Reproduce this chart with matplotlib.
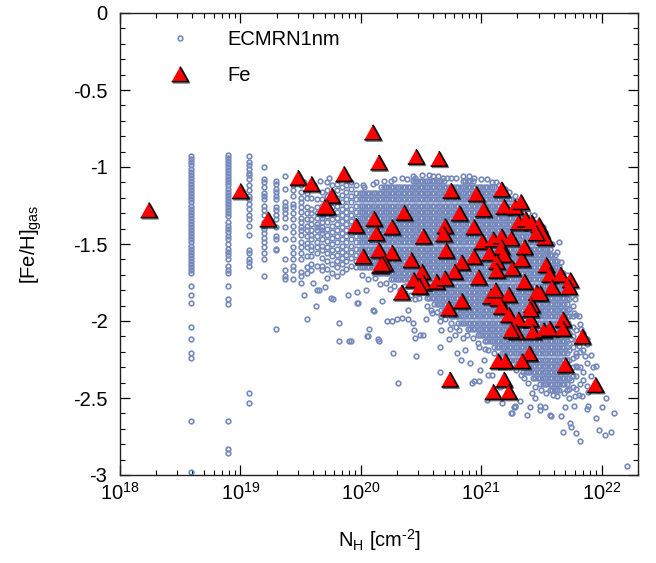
import matplotlib
matplotlib.use("Agg")
import numpy as np
import matplotlib.pyplot as plt
from matplotlib.ticker import LogLocator, LogFormatterMathtext, MultipleLocator, FuncFormatter, NullFormatter
import matplotlib.patheffects as pe

# ---------------- data (log10 N_H, [Fe/H]_gas) ----------------
# model cloud: discrete low-N columns
low_x = [18.59, 18.895, 19.075, 19.197, 19.296, 19.373, 19.44, 19.50, 19.55, 19.59, 19.64, 19.68]
low_y = [
    [-0.93,-0.95,-0.97,-0.99,-1.01,-1.03,-1.05,-1.07,-1.09,-1.11,-1.13,-1.15,-1.17,-1.19,-1.21,-1.23,-1.25,-1.27,-1.29,-1.31,-1.33,-1.35,-1.37,-1.39,-1.41,-1.43,-1.45,-1.47,-1.49,-1.51,-1.53,-1.55,-1.57,-1.59,-1.61,-1.63,-1.65,-1.67,-1.69,-1.77,-1.83,-1.88,-2.04,-2.12,-2.21,-2.24,-2.65,-2.98],
    [-0.92,-0.94,-0.96,-0.98,-1.00,-1.02,-1.04,-1.06,-1.08,-1.10,-1.12,-1.14,-1.16,-1.18,-1.20,-1.22,-1.24,-1.26,-1.28,-1.30,-1.32,-1.355,-1.38,-1.40,-1.42,-1.45,-1.47,-1.50,-1.53,-1.55,-1.57,-1.60,-1.64,-1.67,-1.69,-1.77,-1.86,-1.89,-2.65,-2.83,-2.86],
    [-0.93,-0.965,-0.99,-1.015,-1.04,-1.05,-1.08,-1.12,-1.15,-1.19,-1.21,-1.24,-1.27,-1.31,-1.34,-1.38,-1.44,-1.54,-1.56,-1.60,-1.62,-1.64,-2.47,-2.535],
    [-1.00,-1.08,-1.10,-1.13,-1.17,-1.19,-1.21,-1.25,-1.28,-1.31,-1.355,-1.38,-1.40,-1.43,-1.46,-1.485,-1.52,-1.56,-1.60,-1.71],
    [-1.09,-1.11,-1.14,-1.16,-1.19,-1.21,-1.26,-1.28,-1.31,-1.34,-1.39,-1.45,-1.47,-1.53,-1.54,-2.05],
    [-1.06,-1.14,-1.225,-1.25,-1.27,-1.30,-1.33,-1.39,-1.47,-1.60,-1.67,-1.71,-1.73],
    [-1.12,-1.15,-1.19,-1.24,-1.26,-1.30,-1.34,-1.38,-1.42,-1.47,-1.52,-1.56,-1.60,-1.64,-1.67,-1.73],
    [-1.12,-1.16,-1.20,-1.225,-1.26,-1.29,-1.33,-1.355,-1.39,-1.41,-1.44,-1.485,-1.52,-1.56,-1.60,-1.68,-1.71,-1.755],
    [-1.17,-1.20,-1.26,-1.30,-1.34,-1.38,-1.41,-1.45,-1.495,-1.52,-1.58,-1.65,-1.69,-1.99],
    [-1.20,-1.27,-1.30,-1.34,-1.37,-1.41,-1.44,-1.47,-1.51,-1.54,-1.58,-1.63,-1.67],
    [-1.21,-1.26,-1.30,-1.33,-1.37,-1.39,-1.41,-1.45,-1.485,-1.52,-1.56,-1.64,-1.80],
    [-1.16,-1.21,-1.25,-1.29,-1.31,-1.33,-1.355,-1.39,-1.41,-1.43,-1.47,-1.51,-1.54,-1.59,-1.64,-1.67],
]

# model cloud: semi-dense columns
semi_x = [19.72, 19.76, 19.80, 19.84, 19.88, 19.92, 19.96]
semi_y = [
    [-1.10,-1.15,-1.19,-1.24,-1.28,-1.32,-1.36,-1.40,-1.44,-1.48,-1.52,-1.56,-1.61,-1.66,-1.72],
    [-1.12,-1.17,-1.22,-1.26,-1.30,-1.34,-1.38,-1.42,-1.46,-1.50,-1.54,-1.58,-1.63,-1.69],
    [-1.11,-1.15,-1.20,-1.25,-1.29,-1.33,-1.37,-1.41,-1.45,-1.49,-1.53,-1.57,-1.61,-1.65,-1.71],
    [-1.13,-1.18,-1.23,-1.27,-1.31,-1.35,-1.39,-1.43,-1.47,-1.51,-1.55,-1.59,-1.63,-1.68],
    [-1.12,-1.16,-1.21,-1.25,-1.29,-1.33,-1.37,-1.41,-1.45,-1.49,-1.53,-1.57,-1.61,-1.66],
    [-1.14,-1.19,-1.23,-1.27,-1.31,-1.35,-1.39,-1.43,-1.47,-1.51,-1.55,-1.59,-1.64],
    [-1.12,-1.17,-1.21,-1.25,-1.29,-1.33,-1.37,-1.41,-1.45,-1.49,-1.53,-1.57,-1.61,-1.65],
]

# model cloud: dense core, part A
core_a_x = [19.99,20.01,20.03,20.05,20.07,20.09,20.11,20.13,20.15,20.17,20.19,20.21,20.23,20.25,20.27,20.29,20.31,20.33,20.35,20.37,20.39,20.41]
core_a_y = [
    [-1.17,-1.21,-1.25,-1.29,-1.33,-1.37,-1.41,-1.45,-1.49,-1.53,-1.57,-1.61,-1.65],
    [-1.17,-1.21,-1.25,-1.29,-1.33,-1.37,-1.41,-1.45,-1.49,-1.53,-1.57,-1.61,-1.65],
    [-1.17,-1.21,-1.25,-1.29,-1.33,-1.37,-1.41,-1.45,-1.49,-1.53,-1.57,-1.61,-1.65],
    [-1.17,-1.21,-1.25,-1.29,-1.33,-1.37,-1.41,-1.45,-1.49,-1.53,-1.57,-1.61,-1.65],
    [-1.17,-1.21,-1.25,-1.29,-1.33,-1.37,-1.41,-1.45,-1.49,-1.53,-1.57,-1.61,-1.65],
    [-1.17,-1.21,-1.25,-1.29,-1.33,-1.37,-1.41,-1.45,-1.49,-1.53,-1.57,-1.61,-1.65],
    [-1.17,-1.21,-1.25,-1.29,-1.33,-1.37,-1.41,-1.45,-1.49,-1.53,-1.57,-1.61,-1.65,-1.69],
    [-1.17,-1.21,-1.25,-1.29,-1.33,-1.37,-1.41,-1.45,-1.49,-1.53,-1.57,-1.61,-1.65,-1.69],
    [-1.17,-1.21,-1.25,-1.29,-1.33,-1.37,-1.41,-1.45,-1.49,-1.53,-1.57,-1.61,-1.65,-1.69],
    [-1.13,-1.17,-1.21,-1.25,-1.29,-1.33,-1.37,-1.41,-1.45,-1.49,-1.53,-1.57,-1.61,-1.65,-1.69],
    [-1.13,-1.17,-1.21,-1.25,-1.29,-1.33,-1.37,-1.41,-1.45,-1.49,-1.53,-1.57,-1.61,-1.65,-1.69],
    [-1.13,-1.17,-1.21,-1.25,-1.29,-1.33,-1.37,-1.41,-1.45,-1.49,-1.53,-1.57,-1.61,-1.65,-1.69],
    [-1.13,-1.17,-1.21,-1.25,-1.29,-1.33,-1.37,-1.41,-1.45,-1.49,-1.53,-1.57,-1.61,-1.65,-1.69],
    [-1.13,-1.17,-1.21,-1.25,-1.29,-1.33,-1.37,-1.41,-1.45,-1.49,-1.53,-1.57,-1.61,-1.65,-1.69,-1.73],
    [-1.13,-1.17,-1.21,-1.25,-1.29,-1.33,-1.37,-1.41,-1.45,-1.49,-1.53,-1.57,-1.61,-1.65,-1.69,-1.73],
    [-1.13,-1.17,-1.21,-1.25,-1.29,-1.33,-1.37,-1.41,-1.45,-1.49,-1.53,-1.57,-1.61,-1.65,-1.69,-1.73],
    [-1.13,-1.17,-1.21,-1.25,-1.29,-1.33,-1.37,-1.41,-1.45,-1.49,-1.53,-1.57,-1.61,-1.65,-1.69,-1.73],
    [-1.13,-1.17,-1.21,-1.25,-1.29,-1.33,-1.37,-1.41,-1.45,-1.49,-1.53,-1.57,-1.61,-1.65,-1.69,-1.73],
    [-1.13,-1.17,-1.21,-1.25,-1.29,-1.33,-1.37,-1.41,-1.45,-1.49,-1.53,-1.57,-1.61,-1.65,-1.69,-1.73],
    [-1.13,-1.17,-1.21,-1.25,-1.29,-1.33,-1.37,-1.41,-1.45,-1.49,-1.53,-1.57,-1.61,-1.65,-1.69,-1.73,-1.77],
    [-1.13,-1.17,-1.21,-1.25,-1.29,-1.33,-1.37,-1.41,-1.45,-1.49,-1.53,-1.57,-1.61,-1.65,-1.69,-1.73,-1.77],
    [-1.13,-1.17,-1.21,-1.25,-1.29,-1.33,-1.37,-1.41,-1.45,-1.49,-1.53,-1.57,-1.61,-1.65,-1.69,-1.73,-1.77],
]

# model cloud: dense core, part B
core_b_x = [20.43,20.45,20.47,20.49,20.51,20.53,20.55,20.57,20.59,20.61,20.63,20.65,20.67,20.69,20.71,20.73,20.75,20.77,20.79,20.81,20.83,20.85]
core_b_y = [
    [-1.09,-1.13,-1.17,-1.21,-1.25,-1.29,-1.33,-1.37,-1.41,-1.45,-1.49,-1.53,-1.57,-1.61,-1.65,-1.69,-1.73,-1.77],
    [-1.09,-1.13,-1.17,-1.21,-1.25,-1.29,-1.33,-1.37,-1.41,-1.45,-1.49,-1.53,-1.57,-1.61,-1.65,-1.69,-1.73,-1.77],
    [-1.09,-1.13,-1.17,-1.21,-1.25,-1.29,-1.33,-1.37,-1.41,-1.45,-1.49,-1.53,-1.57,-1.61,-1.65,-1.69,-1.73,-1.77,-1.81],
    [-1.09,-1.13,-1.17,-1.21,-1.25,-1.29,-1.33,-1.37,-1.41,-1.45,-1.49,-1.53,-1.57,-1.61,-1.65,-1.69,-1.73,-1.77,-1.81],
    [-1.09,-1.13,-1.17,-1.21,-1.25,-1.29,-1.33,-1.37,-1.41,-1.45,-1.49,-1.53,-1.57,-1.61,-1.65,-1.69,-1.73,-1.77,-1.81],
    [-1.09,-1.13,-1.17,-1.21,-1.25,-1.29,-1.33,-1.37,-1.41,-1.45,-1.49,-1.53,-1.57,-1.61,-1.65,-1.69,-1.73,-1.77,-1.81],
    [-1.09,-1.13,-1.17,-1.21,-1.25,-1.29,-1.33,-1.37,-1.41,-1.45,-1.49,-1.53,-1.57,-1.61,-1.65,-1.69,-1.73,-1.77,-1.81,-1.85],
    [-1.09,-1.13,-1.17,-1.21,-1.25,-1.29,-1.33,-1.37,-1.41,-1.45,-1.49,-1.53,-1.57,-1.61,-1.65,-1.69,-1.73,-1.77,-1.81,-1.85],
    [-1.09,-1.13,-1.17,-1.21,-1.25,-1.29,-1.33,-1.37,-1.41,-1.45,-1.49,-1.53,-1.57,-1.61,-1.65,-1.69,-1.73,-1.77,-1.81,-1.85],
    [-1.09,-1.13,-1.17,-1.21,-1.25,-1.29,-1.33,-1.37,-1.41,-1.45,-1.49,-1.53,-1.57,-1.61,-1.65,-1.69,-1.73,-1.77,-1.81,-1.85,-1.89],
    [-1.09,-1.13,-1.17,-1.21,-1.25,-1.29,-1.33,-1.37,-1.41,-1.45,-1.49,-1.53,-1.57,-1.61,-1.65,-1.69,-1.73,-1.77,-1.81,-1.85,-1.89],
    [-1.09,-1.13,-1.17,-1.21,-1.25,-1.29,-1.33,-1.37,-1.41,-1.45,-1.49,-1.53,-1.57,-1.61,-1.65,-1.69,-1.73,-1.77,-1.81,-1.85,-1.89],
    [-1.09,-1.13,-1.17,-1.21,-1.25,-1.29,-1.33,-1.37,-1.41,-1.45,-1.49,-1.53,-1.57,-1.61,-1.65,-1.69,-1.73,-1.77,-1.81,-1.85,-1.89,-1.93],
    [-1.09,-1.13,-1.17,-1.21,-1.25,-1.29,-1.33,-1.37,-1.41,-1.45,-1.49,-1.53,-1.57,-1.61,-1.65,-1.69,-1.73,-1.77,-1.81,-1.85,-1.89,-1.93],
    [-1.13,-1.17,-1.21,-1.25,-1.29,-1.33,-1.37,-1.41,-1.45,-1.49,-1.53,-1.57,-1.61,-1.65,-1.69,-1.73,-1.77,-1.81,-1.85,-1.89,-1.93],
    [-1.13,-1.17,-1.21,-1.25,-1.29,-1.33,-1.37,-1.41,-1.45,-1.49,-1.53,-1.57,-1.61,-1.65,-1.69,-1.73,-1.77,-1.81,-1.85,-1.89,-1.93],
    [-1.13,-1.17,-1.21,-1.25,-1.29,-1.33,-1.37,-1.41,-1.45,-1.49,-1.53,-1.57,-1.61,-1.65,-1.69,-1.73,-1.77,-1.81,-1.85,-1.89,-1.93,-1.97],
    [-1.13,-1.17,-1.21,-1.25,-1.29,-1.33,-1.37,-1.41,-1.45,-1.49,-1.53,-1.57,-1.61,-1.65,-1.69,-1.73,-1.77,-1.81,-1.85,-1.89,-1.93,-1.97],
    [-1.13,-1.17,-1.21,-1.25,-1.29,-1.33,-1.37,-1.41,-1.45,-1.49,-1.53,-1.57,-1.61,-1.65,-1.69,-1.73,-1.77,-1.81,-1.85,-1.89,-1.93,-1.97],
    [-1.13,-1.17,-1.21,-1.25,-1.29,-1.33,-1.37,-1.41,-1.45,-1.49,-1.53,-1.57,-1.61,-1.65,-1.69,-1.73,-1.77,-1.81,-1.85,-1.89,-1.93,-1.97,-2.01],
    [-1.13,-1.17,-1.21,-1.25,-1.29,-1.33,-1.37,-1.41,-1.45,-1.49,-1.53,-1.57,-1.61,-1.65,-1.69,-1.73,-1.77,-1.81,-1.85,-1.89,-1.93,-1.97,-2.01],
    [-1.09,-1.13,-1.17,-1.21,-1.25,-1.29,-1.33,-1.37,-1.41,-1.45,-1.49,-1.53,-1.57,-1.61,-1.65,-1.69,-1.73,-1.77,-1.81,-1.85,-1.89,-1.93,-1.97,-2.01],
]

# model cloud: dense core, part C
core_c_x = [20.87,20.89,20.91,20.93,20.95,20.97,20.99,21.01,21.03,21.05,21.07,21.09,21.11,21.13,21.15,21.17,21.19,21.21,21.23,21.25,21.27,21.29]
core_c_y = [
    [-1.09,-1.13,-1.17,-1.21,-1.25,-1.29,-1.33,-1.37,-1.41,-1.45,-1.49,-1.53,-1.57,-1.61,-1.65,-1.69,-1.73,-1.77,-1.81,-1.85,-1.89,-1.93,-1.97,-2.01],
    [-1.09,-1.13,-1.17,-1.21,-1.25,-1.29,-1.33,-1.37,-1.41,-1.45,-1.49,-1.53,-1.57,-1.61,-1.65,-1.69,-1.73,-1.77,-1.81,-1.85,-1.89,-1.93,-1.97,-2.01,-2.05],
    [-1.09,-1.13,-1.17,-1.21,-1.25,-1.29,-1.33,-1.37,-1.41,-1.45,-1.49,-1.53,-1.57,-1.61,-1.65,-1.69,-1.73,-1.77,-1.81,-1.85,-1.89,-1.93,-1.97,-2.01,-2.05],
    [-1.09,-1.13,-1.17,-1.21,-1.25,-1.29,-1.33,-1.37,-1.41,-1.45,-1.49,-1.53,-1.57,-1.61,-1.65,-1.69,-1.73,-1.77,-1.81,-1.85,-1.89,-1.93,-1.97,-2.01,-2.05],
    [-1.13,-1.17,-1.21,-1.25,-1.29,-1.33,-1.37,-1.41,-1.45,-1.49,-1.53,-1.57,-1.61,-1.65,-1.69,-1.73,-1.77,-1.81,-1.85,-1.89,-1.93,-1.97,-2.01,-2.05],
    [-1.13,-1.17,-1.21,-1.25,-1.29,-1.33,-1.37,-1.41,-1.45,-1.49,-1.53,-1.57,-1.61,-1.65,-1.69,-1.73,-1.77,-1.81,-1.85,-1.89,-1.93,-1.97,-2.01,-2.05,-2.09],
    [-1.13,-1.17,-1.21,-1.25,-1.29,-1.33,-1.37,-1.41,-1.45,-1.49,-1.53,-1.57,-1.61,-1.65,-1.69,-1.73,-1.77,-1.81,-1.85,-1.89,-1.93,-1.97,-2.01,-2.05,-2.09],
    [-1.13,-1.17,-1.21,-1.25,-1.29,-1.33,-1.37,-1.41,-1.45,-1.49,-1.53,-1.57,-1.61,-1.65,-1.69,-1.73,-1.77,-1.81,-1.85,-1.89,-1.93,-1.97,-2.01,-2.05,-2.09],
    [-1.13,-1.17,-1.21,-1.25,-1.29,-1.33,-1.37,-1.41,-1.45,-1.49,-1.53,-1.57,-1.61,-1.65,-1.69,-1.73,-1.77,-1.81,-1.85,-1.89,-1.93,-1.97,-2.01,-2.05,-2.09,-2.13],
    [-1.13,-1.17,-1.21,-1.25,-1.29,-1.33,-1.37,-1.41,-1.45,-1.49,-1.53,-1.57,-1.61,-1.65,-1.69,-1.73,-1.77,-1.81,-1.85,-1.89,-1.93,-1.97,-2.01,-2.05,-2.09,-2.13],
    [-1.13,-1.17,-1.21,-1.25,-1.29,-1.33,-1.37,-1.41,-1.45,-1.49,-1.53,-1.57,-1.61,-1.65,-1.69,-1.73,-1.77,-1.81,-1.85,-1.89,-1.93,-1.97,-2.01,-2.05,-2.09,-2.13],
    [-1.13,-1.17,-1.21,-1.25,-1.29,-1.33,-1.37,-1.41,-1.45,-1.49,-1.53,-1.57,-1.61,-1.65,-1.69,-1.73,-1.77,-1.81,-1.85,-1.89,-1.93,-1.97,-2.01,-2.05,-2.09,-2.13],
    [-1.13,-1.17,-1.21,-1.25,-1.29,-1.33,-1.37,-1.41,-1.45,-1.49,-1.53,-1.57,-1.61,-1.65,-1.69,-1.73,-1.77,-1.81,-1.85,-1.89,-1.93,-1.97,-2.01,-2.05,-2.09,-2.13,-2.17],
    [-1.17,-1.21,-1.25,-1.29,-1.33,-1.37,-1.41,-1.45,-1.49,-1.53,-1.57,-1.61,-1.65,-1.69,-1.73,-1.77,-1.81,-1.85,-1.89,-1.93,-1.97,-2.01,-2.05,-2.09,-2.13,-2.17],
    [-1.17,-1.21,-1.25,-1.29,-1.33,-1.37,-1.41,-1.45,-1.49,-1.53,-1.57,-1.61,-1.65,-1.69,-1.73,-1.77,-1.81,-1.85,-1.89,-1.93,-1.97,-2.01,-2.05,-2.09,-2.13,-2.17],
    [-1.17,-1.21,-1.25,-1.29,-1.33,-1.37,-1.41,-1.45,-1.49,-1.53,-1.57,-1.61,-1.65,-1.69,-1.73,-1.77,-1.81,-1.85,-1.89,-1.93,-1.97,-2.01,-2.05,-2.09,-2.13,-2.17,-2.21],
    [-1.17,-1.21,-1.25,-1.29,-1.33,-1.37,-1.41,-1.45,-1.49,-1.53,-1.57,-1.61,-1.65,-1.69,-1.73,-1.77,-1.81,-1.85,-1.89,-1.93,-1.97,-2.01,-2.05,-2.09,-2.13,-2.17,-2.21],
    [-1.21,-1.25,-1.29,-1.33,-1.37,-1.41,-1.45,-1.49,-1.53,-1.57,-1.61,-1.65,-1.69,-1.73,-1.77,-1.81,-1.85,-1.89,-1.93,-1.97,-2.01,-2.05,-2.09,-2.13,-2.17,-2.21],
    [-1.21,-1.25,-1.29,-1.33,-1.37,-1.41,-1.45,-1.49,-1.53,-1.57,-1.61,-1.65,-1.69,-1.73,-1.77,-1.81,-1.85,-1.89,-1.93,-1.97,-2.01,-2.05,-2.09,-2.13,-2.17,-2.21,-2.25],
    [-1.21,-1.25,-1.29,-1.33,-1.37,-1.41,-1.45,-1.49,-1.53,-1.57,-1.61,-1.65,-1.69,-1.73,-1.77,-1.81,-1.85,-1.89,-1.93,-1.97,-2.01,-2.05,-2.09,-2.13,-2.17,-2.21,-2.25],
    [-1.25,-1.29,-1.33,-1.37,-1.41,-1.45,-1.49,-1.53,-1.57,-1.61,-1.65,-1.69,-1.73,-1.77,-1.81,-1.85,-1.89,-1.93,-1.97,-2.01,-2.05,-2.09,-2.13,-2.17,-2.21,-2.25],
    [-1.25,-1.29,-1.33,-1.37,-1.41,-1.45,-1.49,-1.53,-1.57,-1.61,-1.65,-1.69,-1.73,-1.77,-1.81,-1.85,-1.89,-1.93,-1.97,-2.01,-2.05,-2.09,-2.13,-2.17,-2.21,-2.25,-2.29],
]

# model cloud: dense core, part D
core_d_x = [21.31,21.33,21.35,21.37,21.39,21.41,21.43,21.45,21.47,21.49,21.51,21.53,21.55,21.57,21.59,21.61,21.63,21.65,21.67,21.69,21.71]
core_d_y = [
    [-1.29,-1.33,-1.37,-1.41,-1.45,-1.49,-1.53,-1.57,-1.61,-1.65,-1.69,-1.73,-1.77,-1.81,-1.85,-1.89,-1.93,-1.97,-2.01,-2.05,-2.09,-2.13,-2.17,-2.21,-2.25,-2.29],
    [-1.29,-1.33,-1.37,-1.41,-1.45,-1.49,-1.53,-1.57,-1.61,-1.65,-1.69,-1.73,-1.77,-1.81,-1.85,-1.89,-1.93,-1.97,-2.01,-2.05,-2.09,-2.13,-2.17,-2.21,-2.25,-2.29],
    [-1.29,-1.33,-1.37,-1.41,-1.45,-1.49,-1.53,-1.57,-1.61,-1.65,-1.69,-1.73,-1.77,-1.81,-1.85,-1.89,-1.93,-1.97,-2.01,-2.05,-2.09,-2.13,-2.17,-2.21,-2.25,-2.29,-2.33],
    [-1.33,-1.37,-1.41,-1.45,-1.49,-1.53,-1.57,-1.61,-1.65,-1.69,-1.73,-1.77,-1.81,-1.85,-1.89,-1.93,-1.97,-2.01,-2.05,-2.09,-2.13,-2.17,-2.21,-2.25,-2.29,-2.33],
    [-1.33,-1.37,-1.41,-1.45,-1.49,-1.53,-1.57,-1.61,-1.65,-1.69,-1.73,-1.77,-1.81,-1.85,-1.89,-1.93,-1.97,-2.01,-2.05,-2.09,-2.13,-2.17,-2.21,-2.25,-2.29,-2.33],
    [-1.37,-1.41,-1.45,-1.49,-1.53,-1.57,-1.61,-1.65,-1.69,-1.73,-1.77,-1.81,-1.85,-1.89,-1.93,-1.97,-2.01,-2.05,-2.09,-2.13,-2.17,-2.21,-2.25,-2.29,-2.33],
    [-1.37,-1.41,-1.45,-1.49,-1.53,-1.57,-1.61,-1.65,-1.69,-1.73,-1.77,-1.81,-1.85,-1.89,-1.93,-1.97,-2.01,-2.05,-2.09,-2.13,-2.17,-2.21,-2.25,-2.29,-2.33,-2.37],
    [-1.41,-1.45,-1.49,-1.53,-1.57,-1.61,-1.65,-1.69,-1.73,-1.77,-1.81,-1.85,-1.89,-1.93,-1.97,-2.01,-2.05,-2.09,-2.13,-2.17,-2.21,-2.25,-2.29,-2.33,-2.37],
    [-1.41,-1.45,-1.49,-1.53,-1.57,-1.61,-1.65,-1.69,-1.73,-1.77,-1.81,-1.85,-1.89,-1.93,-1.97,-2.01,-2.05,-2.09,-2.13,-2.17,-2.21,-2.25,-2.29,-2.33,-2.37],
    [-1.45,-1.49,-1.53,-1.57,-1.61,-1.65,-1.69,-1.73,-1.77,-1.81,-1.85,-1.89,-1.93,-1.97,-2.01,-2.05,-2.09,-2.13,-2.17,-2.21,-2.25,-2.29,-2.33,-2.37,-2.41],
    [-1.45,-1.49,-1.53,-1.57,-1.61,-1.65,-1.69,-1.73,-1.77,-1.81,-1.85,-1.89,-1.93,-1.97,-2.01,-2.05,-2.09,-2.13,-2.17,-2.21,-2.25,-2.29,-2.33,-2.37,-2.41],
    [-1.49,-1.53,-1.57,-1.61,-1.65,-1.69,-1.73,-1.77,-1.81,-1.85,-1.89,-1.93,-1.97,-2.01,-2.05,-2.09,-2.13,-2.17,-2.21,-2.25,-2.29,-2.33,-2.37,-2.41],
    [-1.49,-1.53,-1.57,-1.61,-1.65,-1.69,-1.73,-1.77,-1.81,-1.85,-1.89,-1.93,-1.97,-2.01,-2.05,-2.09,-2.13,-2.17,-2.21,-2.25,-2.29,-2.33,-2.37,-2.41],
    [-1.53,-1.57,-1.61,-1.65,-1.69,-1.73,-1.77,-1.81,-1.85,-1.89,-1.93,-1.97,-2.01,-2.05,-2.09,-2.13,-2.17,-2.21,-2.25,-2.29,-2.33,-2.37,-2.41,-2.45],
    [-1.57,-1.61,-1.65,-1.69,-1.73,-1.77,-1.81,-1.85,-1.89,-1.93,-1.97,-2.01,-2.05,-2.09,-2.13,-2.17,-2.21,-2.25,-2.29,-2.33,-2.37,-2.41,-2.45],
    [-1.57,-1.61,-1.65,-1.69,-1.73,-1.77,-1.81,-1.85,-1.89,-1.93,-1.97,-2.01,-2.05,-2.09,-2.13,-2.17,-2.21,-2.25,-2.29,-2.33,-2.37,-2.41,-2.45],
    [-1.61,-1.65,-1.69,-1.73,-1.77,-1.81,-1.85,-1.89,-1.93,-1.97,-2.01,-2.05,-2.09,-2.13,-2.17,-2.21,-2.25,-2.29,-2.33,-2.37,-2.41,-2.45],
    [-1.65,-1.69,-1.73,-1.77,-1.81,-1.85,-1.89,-1.93,-1.97,-2.01,-2.05,-2.09,-2.13,-2.17,-2.21,-2.25,-2.29,-2.33,-2.37,-2.41,-2.45],
    [-1.69,-1.73,-1.77,-1.81,-1.85,-1.89,-1.93,-1.97,-2.01,-2.05,-2.09,-2.13,-2.17,-2.21,-2.25,-2.29,-2.33,-2.37,-2.41],
    [-1.73,-1.77,-1.81,-1.85,-1.89,-1.93,-1.97,-2.01,-2.05,-2.09,-2.13,-2.17,-2.21,-2.25,-2.29,-2.33,-2.37,-2.41],
    [-1.81,-1.85,-1.89,-1.93,-1.97,-2.01,-2.05,-2.09,-2.13,-2.17,-2.21,-2.25,-2.29,-2.33,-2.37,-2.41],
]

# model cloud: right tail columns
tail_x = [21.73, 21.76, 21.79, 21.82, 21.85, 21.88, 21.91]
tail_y = [
    [-1.80,-1.86,-1.92,-1.97,-2.03,-2.08,-2.14,-2.19,-2.25,-2.31,-2.37,-2.44],
    [-1.90,-1.97,-2.04,-2.10,-2.17,-2.24,-2.30,-2.36,-2.43],
    [-1.96,-2.06,-2.13,-2.21,-2.29,-2.36,-2.44],
    [-2.02,-2.11,-2.20,-2.30,-2.41],
    [-2.08,-2.19,-2.33],
    [-2.15,-2.27,-2.42],
    [-2.22,-2.36],
]

# model cloud: points along the upper and lower edges of the core
edge_x = [20.01,20.06,20.12,20.16,20.21,20.24,20.28,20.33,20.37,20.42,20.45,20.48,20.55,20.58,20.63,20.67,20.70,20.75,20.79,20.82,
          20.88,20.93,20.97,21.03,21.06,21.11,21.15,21.21,21.24,21.29,21.33,21.36,21.39,21.45,21.50,21.54,21.60,21.63,21.69,21.71,
          20.03,20.13,20.19,20.28,20.34,20.43,20.51,20.57,20.64,20.72,20.79,20.85,20.94,21.05,21.09,21.15,21.23,21.30,21.39,21.47,
          21.53,21.59,21.63,21.66,21.71,21.72,21.75,21.77,21.80]
edge_y = [-1.70,-1.73,-1.72,-1.76,-1.75,-1.79,-1.77,-1.80,-1.82,-1.83,-1.86,-1.85,-1.90,-1.93,-1.94,-1.97,-1.99,-2.01,-2.04,-2.06,
          -2.09,-2.11,-2.14,-2.18,-2.19,-2.21,-2.24,-2.27,-2.30,-2.32,-2.35,-2.37,-2.40,-2.43,-2.45,-2.47,-2.48,-2.49,-2.47,-2.45,
          -1.13,-1.10,-1.09,-1.08,-1.07,-1.06,-1.05,-1.05,-1.06,-1.07,-1.07,-1.06,-1.07,-1.08,-1.10,-1.12,-1.16,-1.22,-1.30,-1.36,
          -1.42,-1.50,-1.55,-1.62,-1.70,-2.01,-2.12,-1.95,-2.30]

# model cloud: scattered points
scat_x = [19.53,19.61,19.66,19.57,19.60,19.70,19.53,19.63,19.65,19.75,19.77,19.82,19.82,19.89,19.90,19.92,19.97,19.97,19.98,
          20.04,20.05,20.06,20.07,20.10,20.11,20.14,20.15,20.18,20.22,20.26,20.27,20.30,20.31,20.34,20.39,20.39,20.43,20.44,20.45,20.46,20.49,
          20.52,20.54,20.59,20.66,20.66,20.66,20.67,20.73,20.74,20.78,20.80,20.83,20.85,20.87,20.91,20.92,20.94,20.98,20.98,20.99,21.02,21.05,21.06,21.09,21.16,21.17,
          21.25,21.26,21.27,21.28,21.28,21.32,21.38,21.41,21.42,21.45,21.49,21.49,21.53,21.57,21.58,21.66,21.68,21.70,21.73,21.74,21.75,21.75,21.77,21.78,21.79,21.79,
          21.81,21.81,21.82,21.84,21.85,21.89,21.88,21.89,21.95,21.95,21.97,21.98,22.00,22.03,22.04,22.08,22.10,22.21,
          21.51,21.55,21.65,21.68,21.78,21.81,21.83,21.86,21.88,21.93,
          19.74,19.92,20.02,20.10,20.25,20.38,20.45,20.60,20.68,20.75,20.90,21.00,21.12,21.20,21.28,21.36,21.44]
scat_y = [-1.10,-1.12,-1.09,-1.14,-1.75,-1.78,-1.83,-1.90,-1.80,-1.85,-1.86,-2.015,-2.13,-1.83,-2.13,-2.13,-1.81,-1.88,-1.885,
          -1.80,-2.10,-2.10,-2.05,-1.93,-1.935,-2.12,-2.13,-1.87,-2.00,-2.00,-2.21,-1.99,-2.40,-1.98,-1.99,-1.93,-2.01,-2.06,-2.11,-2.23,-2.09,
          -2.09,-1.99,-1.95,-2.00,-2.17,-2.33,-2.06,-2.12,-2.05,-2.09,-2.21,-2.25,-2.11,-2.19,-2.27,-2.40,-2.39,-2.39,-2.17,-2.32,-2.25,-2.51,-2.35,-2.35,-2.43,-2.53,
          -2.60,-2.60,-2.56,-2.55,-2.56,-2.52,-2.61,-2.56,-2.47,-2.50,-2.55,-2.58,-2.56,-2.61,-2.62,-2.62,-2.72,-2.56,-2.50,-2.66,-2.69,-2.38,-2.55,-2.49,-2.73,-2.23,
          -2.48,-2.16,-2.78,-2.49,-2.38,-2.46,-2.57,-2.55,-2.63,-2.29,-2.45,-2.71,-2.56,-2.74,-2.50,-2.72,-2.60,-2.94,
          -1.39,-1.565,-1.485,-1.69,-1.86,-1.97,-2.05,-2.23,-2.12,-2.30,
          -1.07,-1.10,-1.12,-1.11,-1.09,-1.08,-1.07,-1.06,-1.07,-1.07,-1.06,-1.08,-1.10,-1.14,-1.19,-1.25,-1.31]

# observations: Fe
fe_x = [18.24,19.00,19.23,19.48,19.59,19.86,20.10,20.15,19.76,19.70,19.72,19.96,20.11,20.13,20.02,20.15,20.16,
        20.46,20.65,20.75,20.96,21.17,21.02,21.19,21.28,21.33,20.82,20.36,20.26,20.52,20.70,20.69,20.94,
        21.31,21.37,21.42,21.48,21.50,21.53,21.46,21.01,21.10,21.17,21.25,21.17,20.71,20.26,20.42,20.20,20.18,
        20.94,21.07,21.19,21.13,21.13,21.26,21.34,21.36,20.84,20.78,20.51,20.44,20.52,20.49,20.63,20.70,20.98,21.36,
        20.34,20.84,20.73,21.08,21.14,21.12,21.23,21.17,21.23,21.31,21.41,21.29,21.43,21.46,21.42,21.41,21.25,
        21.54,21.57,21.66,21.74,21.73,21.59,21.49,21.52,21.57,21.68,21.68,21.84,
        21.40,21.34,21.14,21.20,21.70,21.19,20.74,21.10,21.23,21.95]
fe_y = [-1.28,-1.156,-1.34,-1.07,-1.11,-1.045,-0.775,-0.97,-1.186,-1.26,-1.26,-1.38,-1.336,-1.43,-1.58,-1.54,-1.64,
        -0.933,-0.946,-1.154,-1.175,-1.145,-1.275,-1.258,-1.26,-1.227,-1.30,-1.297,-1.39,-1.45,-1.383,-1.435,-1.39,
        -1.36,-1.34,-1.36,-1.377,-1.41,-1.46,-1.43,-1.485,-1.47,-1.45,-1.463,-1.52,-1.543,-1.556,-1.604,-1.625,-1.63,
        -1.582,-1.56,-1.571,-1.615,-1.673,-1.658,-1.60,-1.52,-1.62,-1.68,-1.68,-1.734,-1.75,-1.777,-1.745,-1.723,-1.716,-1.745,
        -1.814,-1.87,-1.918,-1.84,-1.853,-1.80,-1.83,-1.907,-1.96,-1.99,-1.99,-2.07,-2.07,-1.816,-1.896,-1.924,-2.06,
        -1.636,-1.70,-1.70,-1.734,-1.78,-1.78,-1.82,-2.06,-2.05,-1.99,-2.05,-2.10,
        -2.21,-2.26,-2.26,-2.26,-2.286,-2.38,-2.38,-2.46,-2.46,-2.415]

x_major_ticks = [1e18, 1e19, 1e20, 1e21, 1e22]
y_major_ticks = [-3, -2.5, -2, -1.5, -1, -0.5, 0]

# ---------------- style ----------------
plt.rcParams['font.family'] = ['Liberation Sans', 'DejaVu Sans']
plt.rcParams['mathtext.fontset'] = 'custom'
plt.rcParams['mathtext.rm'] = 'Liberation Sans'
plt.rcParams['mathtext.it'] = 'Liberation Sans:italic'
plt.rcParams['mathtext.default'] = 'regular'
plt.rcParams['axes.unicode_minus'] = False

FS = 14.5
cloud_color = '#7589bc'

fig = plt.figure(figsize=(6.56, 5.63), dpi=100)
ax = fig.add_axes([120/656, 1 - 475/563, 518/656, 462/563])

# assemble cloud
cx, cy = [], []
for xs, ys in [(low_x, low_y), (semi_x, semi_y), (core_a_x, core_a_y), (core_b_x, core_b_y),
               (core_c_x, core_c_y), (core_d_x, core_d_y), (tail_x, tail_y)]:
    for x, col in zip(xs, ys):
        cx += [x] * len(col)
        cy += col
cx += edge_x + scat_x
cy += edge_y + scat_y
cx = np.power(10.0, np.array(cx))
cy = np.array(cy)

ax.plot(cx, cy, ls='none', marker='o', ms=3.35, mfc='none', mec=cloud_color, mew=1.2,
        label='ECMRN1nm', zorder=2)

tri = [(-1, -0.9), (1, -0.9), (0, 0.9)]
ax.plot(np.power(10.0, np.array(fe_x)), fe_y, ls='none', marker=tri, ms=12, mfc='#ff0000',
        mec='black', mew=1.1, label='Fe', zorder=3,
        path_effects=[pe.SimpleLineShadow(offset=(0.8, -0.9), shadow_color='black', alpha=0.55), pe.Normal()])

ax.set_xscale('log')
ax.set_xlim(1e18, 10**22.303)
ax.set_ylim(-3, 0)

ax.xaxis.set_major_locator(LogLocator(base=10, numticks=12))
ax.xaxis.set_minor_locator(LogLocator(base=10, subs=np.arange(2, 10), numticks=12))
ax.xaxis.set_major_formatter(LogFormatterMathtext())
ax.xaxis.set_minor_formatter(NullFormatter())
ax.set_xticks(x_major_ticks)
ax.set_yticks(y_major_ticks)
ax.yaxis.set_minor_locator(MultipleLocator(0.1))
ax.yaxis.set_major_formatter(FuncFormatter(lambda v, p: '%g' % v))

ax.tick_params(which='both', direction='in', top=True, right=True, colors='black', labelsize=FS)
ax.tick_params(which='major', length=7.5, width=0.9)
ax.tick_params(which='minor', length=3.6, width=0.8)
ax.tick_params(axis='y', which='major', pad=9)
ax.tick_params(axis='x', which='major', pad=5)
for s in ax.spines.values():
    s.set_linewidth(1.0)
    s.set_color('#222222')

ax.set_xlabel(r'N$_{H}$ [cm$^{\text{-}2}$]', fontsize=FS, labelpad=17)
ax.set_ylabel('[Fe/H]$_{gas}$', fontsize=FS, labelpad=21)

leg = ax.legend(loc='upper left', bbox_to_anchor=(0.0965, 0.963), borderaxespad=0, borderpad=0,
                frameon=False, fontsize=FS, handlelength=1.0, handletextpad=1.85, labelspacing=0.85,
                numpoints=1)

fig.savefig('out.png', dpi=100)
